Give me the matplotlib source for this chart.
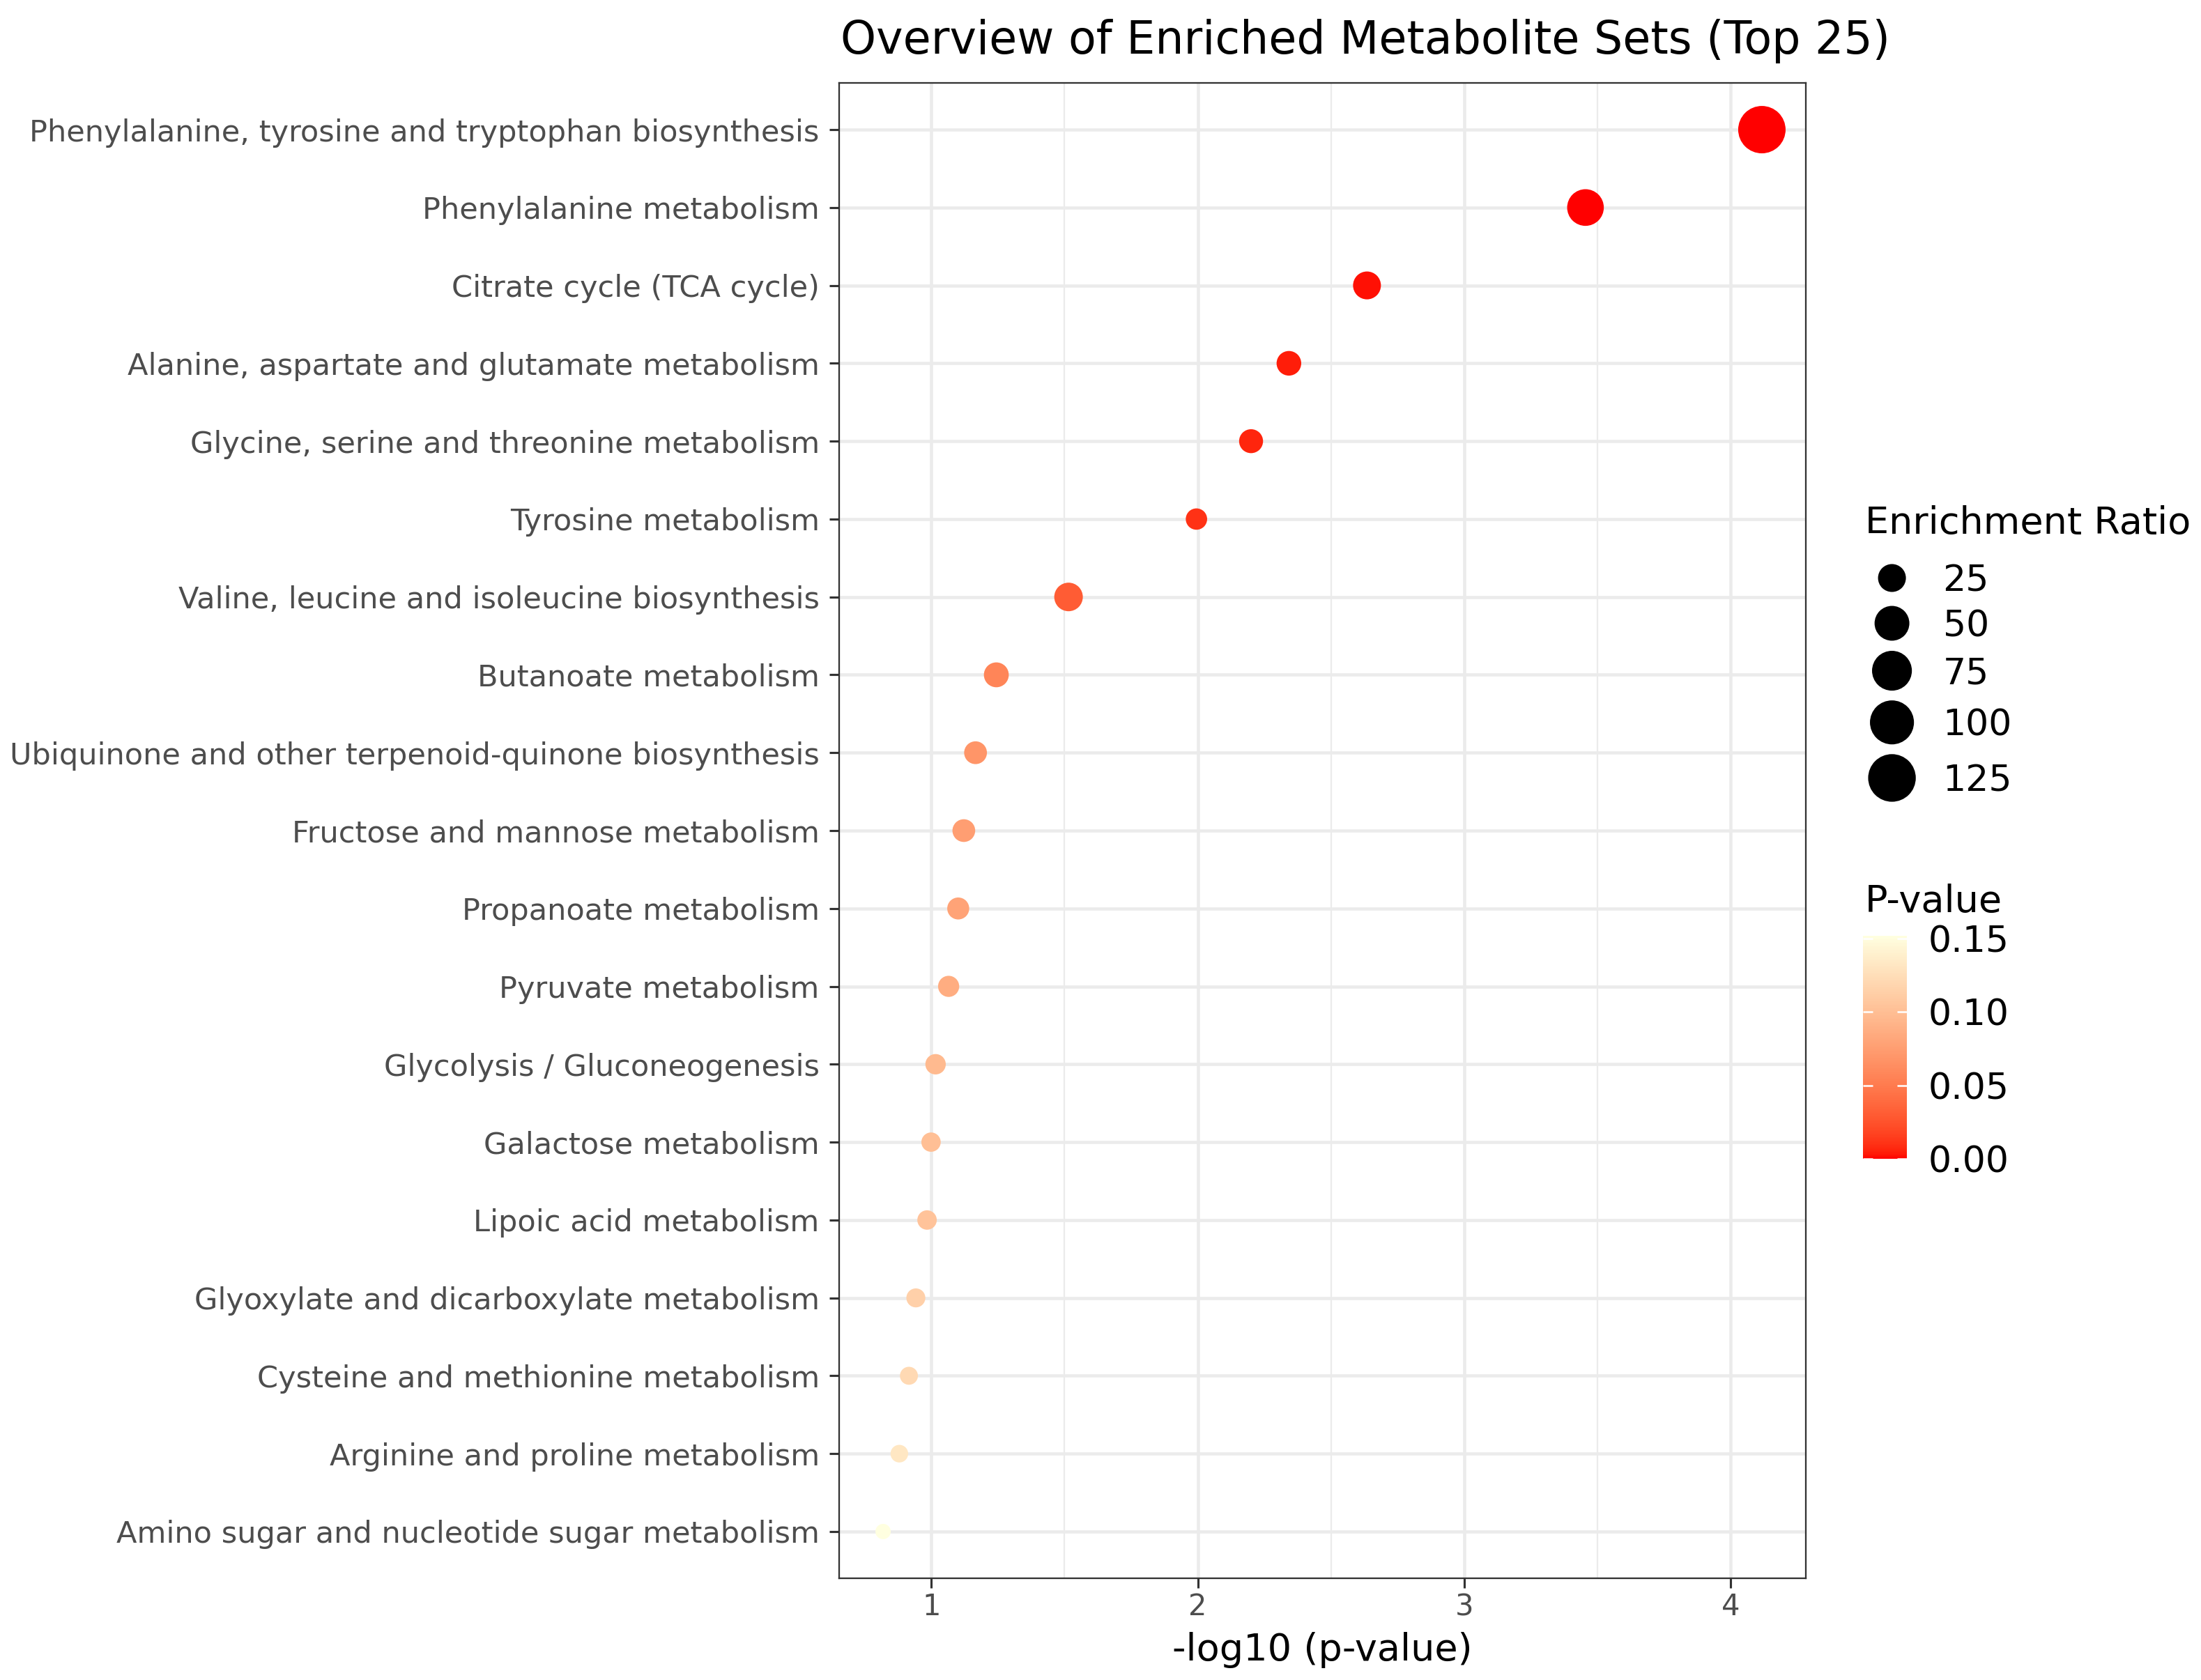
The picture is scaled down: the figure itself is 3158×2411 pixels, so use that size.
import numpy as np
import matplotlib
matplotlib.use('Agg')
import matplotlib.pyplot as plt
import matplotlib.colors as mcolors
import matplotlib.cm as cm

# Metabolite set enrichment overview
pathways = [
    'Phenylalanine, tyrosine and tryptophan biosynthesis',
    'Phenylalanine metabolism',
    'Citrate cycle (TCA cycle)',
    'Alanine, aspartate and glutamate metabolism',
    'Glycine, serine and threonine metabolism',
    'Tyrosine metabolism',
    'Valine, leucine and isoleucine biosynthesis',
    'Butanoate metabolism',
    'Ubiquinone and other terpenoid-quinone biosynthesis',
    'Fructose and mannose metabolism',
    'Propanoate metabolism',
    'Pyruvate metabolism',
    'Glycolysis / Gluconeogenesis',
    'Galactose metabolism',
    'Lipoic acid metabolism',
    'Glyoxylate and dicarboxylate metabolism',
    'Cysteine and methionine metabolism',
    'Arginine and proline metabolism',
    'Amino sugar and nucleotide sugar metabolism',
]
neg_log10_p = [4.117, 3.455, 2.635, 2.342, 2.200, 1.995, 1.515, 1.244, 1.166,
               1.122, 1.101, 1.065, 1.016, 0.999, 0.984, 0.942, 0.916, 0.880, 0.819]
enrichment_ratio = [123.3, 58.6, 25.0, 17.0, 15.6, 11.3, 27.0, 17.5, 13.5,
                    13.4, 12.2, 11.0, 10.1, 9.0, 9.1, 8.7, 8.0, 7.8, 7.2]
size_breaks = [25, 50, 75, 100, 125]
pvalue_ticks = [0.00, 0.05, 0.10, 0.15]

W, H, DPI = 3158, 2411, 300


def srgb_to_lab(col):
    rgb = np.array(mcolors.to_rgb(col))
    lin = np.where(rgb <= 0.04045, rgb / 12.92, ((rgb + 0.055) / 1.055) ** 2.4)
    m = np.array([[0.4124, 0.3576, 0.1805],
                  [0.2126, 0.7152, 0.0722],
                  [0.0193, 0.1192, 0.9505]])
    xyz = m @ lin / np.array([0.95047, 1.0, 1.08883])
    f = np.where(xyz > 0.008856, np.cbrt(xyz), 7.787 * xyz + 16 / 116)
    return np.array([116 * f[1] - 16, 500 * (f[0] - f[1]), 200 * (f[1] - f[2])])


def lab_to_srgb(lab):
    fy = (lab[:, 0] + 16) / 116
    fx = fy + lab[:, 1] / 500
    fz = fy - lab[:, 2] / 200
    f = np.stack([fx, fy, fz], axis=1)
    xyz = np.where(f ** 3 > 0.008856, f ** 3, (f - 16 / 116) / 7.787)
    xyz = xyz * np.array([0.95047, 1.0, 1.08883])
    m_inv = np.array([[3.2406, -1.5372, -0.4986],
                      [-0.9689, 1.8758, 0.0415],
                      [0.0557, -0.2040, 1.0570]])
    lin = xyz @ m_inv.T
    rgb = np.where(lin <= 0.0031308, 12.92 * lin, 1.055 * np.clip(lin, 0, None) ** (1 / 2.4) - 0.055)
    return np.clip(rgb, 0, 1)


# ggplot-like gradient (interpolated in Lab space)
t = np.linspace(0, 1, 256)[:, None]
lab = srgb_to_lab('red') * (1 - t) + srgb_to_lab('#FFFFE0') * t
cmap = mcolors.ListedColormap(lab_to_srgb(lab))

x = np.array(neg_log10_p)
ratio = np.array(enrichment_ratio)
pval = 10 ** (-x)
rows = np.arange(1, len(pathways) + 1)
norm = mcolors.Normalize(0, pval.max())
rmin, rmax = ratio.min(), ratio.max()


def point_area(v):
    # area scale: diameter 22px..68px (at 300 dpi) over the data range
    d = 22 + 46 * np.sqrt(np.clip((np.asarray(v, float) - rmin) / (rmax - rmin), 0, None))
    return (d * 72 / DPI) ** 2


fig = plt.figure(figsize=(W / DPI, H / DPI), dpi=DPI)
ax = fig.add_axes([1204 / W, 1 - 2265 / H, (2591 - 1204) / W, (2265 - 119) / H])

ax.scatter(x, rows, s=point_area(ratio), c=pval, cmap=cmap, norm=norm,
           linewidths=0, zorder=3)

span = x.max() - x.min()
ax.set_xlim(x.min() - 0.05 * span, x.max() + 0.05 * span)
ax.set_ylim(len(pathways) + 0.6, 0.4)
ax.set_yticks(rows, pathways)
ax.set_xticks([1, 2, 3, 4])
ax.set_xticks([1.5, 2.5, 3.5], minor=True)
ax.set_axisbelow(True)
ax.grid(which='major', color='#EBEBEB', lw=1.08)
ax.grid(which='minor', axis='x', color='#EBEBEB', lw=0.55)
ax.tick_params(which='minor', length=0)
ax.tick_params(which='major', length=3.4, width=0.75, color='#333333',
               labelcolor='#4D4D4D')
ax.tick_params(axis='y', labelsize=10.35, pad=3.4)
ax.tick_params(axis='x', labelsize=10, pad=1.5)
for s in ax.spines.values():
    s.set_color('#333333')
    s.set_linewidth(0.55)

fig.text(1206 / W, 1 - 77 / H, 'Overview of Enriched Metabolite Sets (Top 25)',
         ha='left', va='baseline', fontsize=15.6)
fig.text(1897.5 / W, 1 - 2383 / H, '-log10 (p-value)', ha='center',
         va='baseline', fontsize=13)

# colour bar
cax = fig.add_axes([2673 / W, 1 - 1663 / H, 63 / W, 320 / H])
cb = fig.colorbar(cm.ScalarMappable(norm=norm, cmap=cmap), cax=cax, ticks=pvalue_ticks)
cb.outline.set_visible(False)
cb.set_ticklabels([f'{v:.2f}' for v in pvalue_ticks])
cax.tick_params(direction='in', length=3.4, width=0.6, color='white',
                left=True, right=True, labelsize=12.5, pad=7.4)
fig.text(2676 / W, 1 - 1309 / H, 'P-value', ha='left', va='baseline', fontsize=13)

# size legend, laid out in pixel coordinates
lax = fig.add_axes([0, 0, 1, 1])
lax.set_xlim(0, W)
lax.set_ylim(H, 0)
lax.axis('off')
diam = 22 + 46 * np.sqrt((np.array(size_breaks) - rmin) / (rmax - rmin))
key_h = np.maximum(65, diam + 14)
centers = 829.5 + np.concatenate([[0], np.cumsum((key_h[:-1] + key_h[1:]) / 2)])
lax.scatter([2714.6] * len(size_breaks), centers, s=point_area(size_breaks),
            color='black', linewidths=0)
for cy, lab_txt in zip(centers, size_breaks):
    lax.text(2787.5, cy + 19, str(lab_txt), ha='left', va='baseline', fontsize=12.5)
lax.text(2676, 766, 'Enrichment Ratio', ha='left', va='baseline', fontsize=13)

fig.savefig('out.png', dpi=DPI)
